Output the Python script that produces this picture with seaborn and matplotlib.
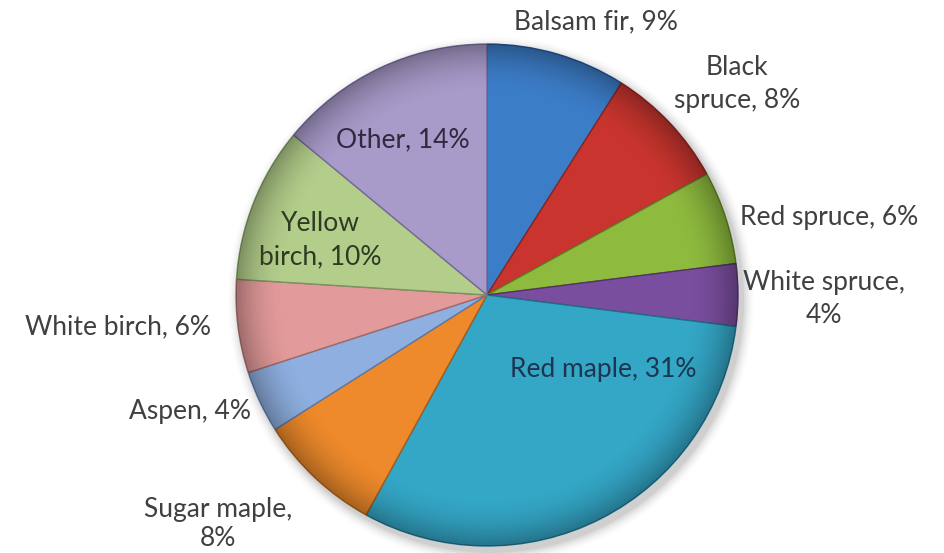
import matplotlib
matplotlib.use("Agg")
import matplotlib.pyplot as plt
import seaborn as sns
import numpy as np
from matplotlib.patches import Circle

sns.set_theme(style="white")
plt.rcParams['font.family'] = ['Lato', 'DejaVu Sans']

# ---- data ----
species = ["Balsam fir", "Black spruce", "Red spruce", "White spruce", "Red maple",
           "Sugar maple", "Aspen", "White birch", "Yellow birch", "Other"]
shares = [9, 8, 6, 4, 31, 8, 4, 6, 10, 14]
label_texts = ["Balsam fir, 9%", "Black\nspruce, 8%", "Red spruce, 6%", "White spruce,\n4%",
               "Red maple, 31%", "Sugar maple,\n8%", "Aspen, 4%", "White birch, 6%",
               "Yellow\nbirch, 10%", "Other, 14%"]

# ---- style / layout ----
colors = ["#3C7DC8", "#C9352E", "#8EBB3E", "#7A4E9E", "#34A6C6",
          "#EE8A2B", "#8EAFE0", "#E39A9A", "#B3CE8B", "#A89AC9"]
edge_colors = ["#24508a", "#8a2420", "#5f7f26", "#523368", "#1f6f88",
               "#a65e1a", "#5c7aa8", "#a06a6a", "#7c9260", "#74699a"]
# label anchor positions in figure pixels (x from left, y from top)
label_pos = [(596, 22), (737, 84), (829, 217), (824, 299), (603, 369),
             (218, 524), (190, 412), (118, 327), (320, 240), (403, 140)]
label_ls = [1.4, 1.4, 1.4, 1.4, 1.4, 1.15, 1.4, 1.4, 1.4, 1.4]
label_col = ["#404040"] * 4 + ["#1e3550"] + ["#404040"] * 3 + ["#2f3a22", "#2e2a40"]

W, H = 944, 553
cx, cy, R = 487, 295, 251

fig = plt.figure(figsize=(W / 100, H / 100), dpi=100)
ax = fig.add_axes([0, 0, 1, 1])
ax.set_xlim(0, W)
ax.set_ylim(0, H)
ax.set_aspect('equal')
ax.axis('off')

center = (cx, H - cy)

# soft shadow
for i, a in enumerate(np.linspace(0.05, 0.01, 6)):
    ax.add_patch(Circle((cx + 4, H - cy - 5), R + 2 + i * 2, color='black', alpha=a, lw=0, zorder=0))

wedges, _ = ax.pie(shares, colors=colors, startangle=90, counterclock=False,
                   radius=R, center=center, frame=True,
                   wedgeprops=dict(linewidth=1.0))
for w, ec in zip(wedges, edge_colors):
    w.set_edgecolor(ec)
    w.set_zorder(2)
ax.set_xlim(0, W)
ax.set_ylim(0, H)
ax.axis('off')

# bevel-like radial shading overlay
n = 400
yy, xx = np.mgrid[-1:1:n * 1j, -1:1:n * 1j]
rr = np.sqrt(xx ** 2 + yy ** 2)
shade = np.zeros((n, n, 4))
alpha = np.clip((rr - 0.80) / 0.20, 0, 1) ** 2 * 0.30
shade[..., 3] = alpha
im = ax.imshow(shade, extent=(cx - R, cx + R, H - cy - R, H - cy + R), zorder=3,
               origin='lower', interpolation='bilinear')
clip = Circle(center, R, transform=ax.transData)
im.set_clip_path(clip)
ax.set_xlim(0, W)
ax.set_ylim(0, H)

for txt, (px, py), ls, c in zip(label_texts, label_pos, label_ls, label_col):
    ax.text(px, H - py, txt, ha='center', va='center', fontsize=19, color=c,
            linespacing=ls, zorder=5)

fig.savefig("out.png", dpi=100, facecolor='white')
